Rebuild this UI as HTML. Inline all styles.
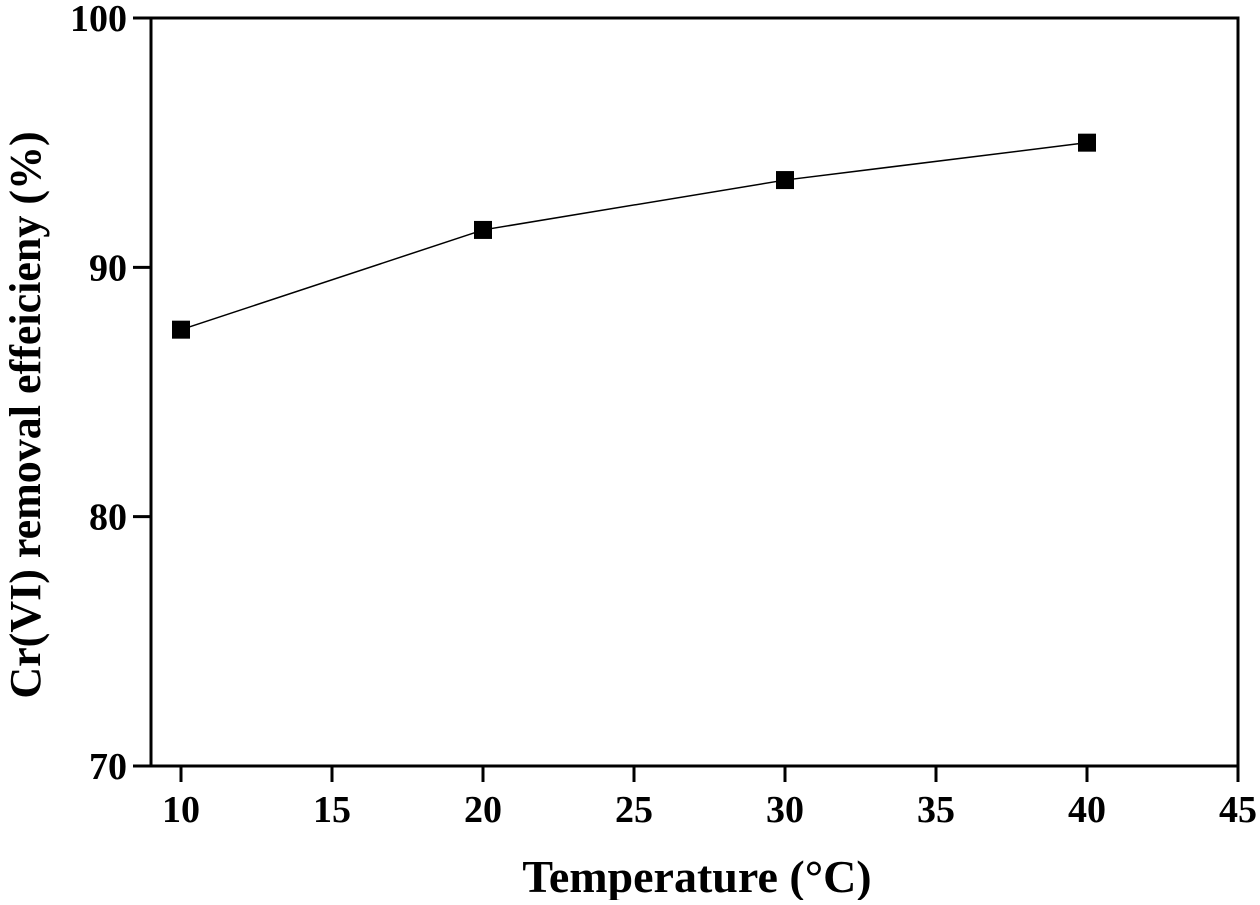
<!DOCTYPE html>
<html><head><meta charset="utf-8"><style>
html,body{margin:0;padding:0;background:#fff;}
svg text{font-family:"Liberation Serif",serif;font-weight:bold;fill:#000;}
</style></head><body>
<svg id="chart" width="1260" height="900" viewBox="0 0 1260 900" xmlns="http://www.w3.org/2000/svg">
<rect x="151" y="18" width="1087" height="748" fill="none" stroke="#000" stroke-width="3"/>
<g id="axes"></g>
<polyline id="series-line" fill="none" stroke="#000" stroke-width="1.5"/>
<g id="markers"></g>
<text x="697" y="892" font-size="46" text-anchor="middle">Temperature (°C)</text>
<text transform="translate(40,415) rotate(-90)" font-size="44" text-anchor="middle">Cr(VI) removal effeicieny (%)</text>
</svg>
<script>
const categories=[10,20,30,40];
const values=[87.5,91.5,93.5,95];
const xTicks=[10,15,20,25,30,35,40,45];
const yTicks=[70,80,90,100];
const xs=v=>181+(v-10)*(1238-181)/35;
const ys=v=>766-(v-70)*(766-18)/30;
const NS="http://www.w3.org/2000/svg";
const axes=document.getElementById('axes');
function mk(tag,attrs,parent){const e=document.createElementNS(NS,tag);for(const k in attrs)e.setAttribute(k,attrs[k]);parent.appendChild(e);return e;}
xTicks.forEach(t=>{
 const l=mk('line',{x1:xs(t),x2:xs(t),y1:766,y2:782,stroke:'#000','stroke-width':3},axes);
 
 
 const tx=mk('text',{x:xs(t),y:822,'font-size':38,'text-anchor':'middle'},axes);
 tx.textContent=t;
 
 
});
yTicks.forEach(t=>{
 const l=mk('line',{x1:133,x2:151,y1:ys(t),y2:ys(t),stroke:'#000','stroke-width':3},axes);
 
 
 const tx=mk('text',{x:127,y:ys(t)+13,'font-size':38,'text-anchor':'end'},axes);
 tx.textContent=t;
 
 
});
document.getElementById('series-line').setAttribute('points',categories.map((c,i)=>xs(c)+','+ys(values[i])).join(' '));
const mg=document.getElementById('markers');
categories.forEach((c,i)=>{
 const r=mk('rect',{x:xs(c)-9,y:ys(values[i])-9,width:18,height:18,fill:'#000'},mg);
 
 
});
</script>
</body></html>
